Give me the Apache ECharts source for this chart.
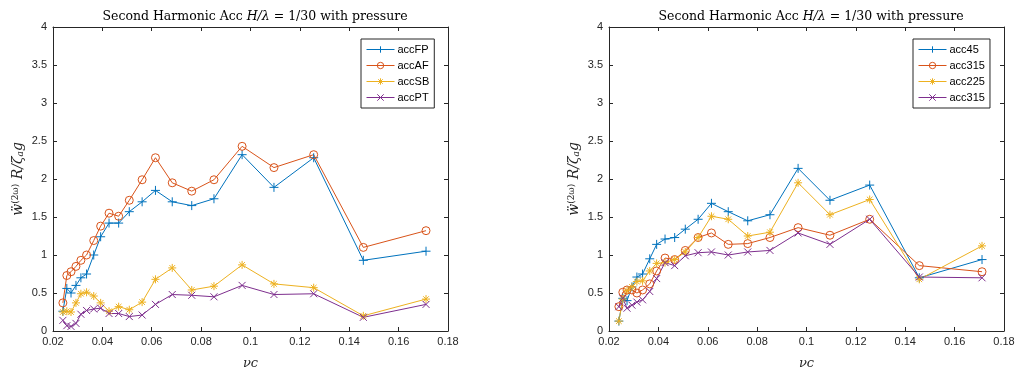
<!DOCTYPE html>
<html>
<head>
<meta charset="utf-8">
<script src="https://cdn.jsdelivr.net/npm/echarts@6.0.0/dist/echarts.min.js"></script>
<style>
  html, body { margin: 0; padding: 0; background: #fff; }
  #chart { width: 1019px; height: 369px; }
</style>
</head>
<body>
<div id="chart"></div>
<script>
// shared x values (nu*c)
const nu = [0.0240, 0.0256, 0.0273, 0.0293, 0.0313, 0.0336, 0.0365, 0.0393, 0.0427, 0.0466, 0.0509,
            0.0561, 0.0615, 0.0683, 0.0762, 0.0852, 0.0966, 0.1095, 0.1256, 0.1457, 0.1711];

// left panel
const accFP = [0.26, 0.56, 0.50, 0.60, 0.70, 0.75, 1.00, 1.24, 1.42, 1.42, 1.57, 1.70, 1.85, 1.70, 1.65, 1.74, 2.32, 1.89, 2.28, 0.93, 1.05];
const accAF = [0.37, 0.73, 0.78, 0.85, 0.93, 1.00, 1.19, 1.38, 1.55, 1.51, 1.72, 1.99, 2.28, 1.95, 1.84, 1.99, 2.43, 2.15, 2.32, 1.10, 1.32];
const accSB = [0.25, 0.26, 0.25, 0.37, 0.49, 0.51, 0.46, 0.37, 0.26, 0.32, 0.28, 0.38, 0.68, 0.83, 0.54, 0.59, 0.87, 0.62, 0.57, 0.20, 0.42];
const accPT = [0.14, 0.07, 0.06, 0.10, 0.22, 0.27, 0.29, 0.30, 0.23, 0.23, 0.19, 0.21, 0.35, 0.48, 0.47, 0.45, 0.60, 0.48, 0.49, 0.18, 0.35];

// right panel
const acc45   = [0.13, 0.43, 0.40, 0.58, 0.71, 0.75, 0.95, 1.14, 1.21, 1.23, 1.34, 1.47, 1.68, 1.57, 1.45, 1.53, 2.14, 1.72, 1.92, 0.70, 0.94];
const acc315  = [0.32, 0.51, 0.54, 0.54, 0.50, 0.54, 0.62, 0.79, 0.96, 0.94, 1.06, 1.23, 1.29, 1.14, 1.15, 1.23, 1.36, 1.26, 1.47, 0.86, 0.78];
const acc225  = [0.13, 0.42, 0.53, 0.58, 0.65, 0.66, 0.79, 0.89, 0.90, 0.94, 1.04, 1.23, 1.51, 1.47, 1.25, 1.30, 1.95, 1.53, 1.73, 0.68, 1.12];
const acc315b = [0.32, 0.43, 0.30, 0.34, 0.38, 0.41, 0.52, 0.69, 0.90, 0.86, 0.99, 1.03, 1.04, 1.00, 1.04, 1.06, 1.29, 1.14, 1.47, 0.71, 0.70];

// the right legend repeats "acc315"; '#n' keeps series names unique and is cut off in the legend
const leftNames = ['accFP', 'accAF', 'accSB', 'accPT'];
const rightNames = ['acc45', 'acc315#1', 'acc225', 'acc315#2'];

const COLORS = ['#0072BD', '#D95319', '#EDB120', '#7E2F8E'];
// matlab markers: + o * x
const MARKS = [
    'path://M0,-4L0,4M-4,0L4,0',
    'path://M4,0A4,4,0,1,1,-4,0A4,4,0,1,1,4,0Z',
    'path://M0,-4L0,4M-4,0L4,0M-2.8,-2.8L2.8,2.8M-2.8,2.8L2.8,-2.8',
    'path://M-4,-4L4,4M-4,4L4,-4',
];
const SIZES = [9, 8, 8, 7];
const AX = '#262626';
const SANS = 'Liberation Sans, Arial, sans-serif';
const SERIF = 'DejaVu Serif, serif';

const chart = echarts.init(document.getElementById('chart'));

const fmt = (v) => String(+v.toFixed(4));

function mkSeries(name, vals, k, gi) {
    return {
        name: name,
        type: 'line',
        xAxisIndex: gi * 2,
        yAxisIndex: gi * 2,
        data: nu.map((x, i) => [x, vals[i]]),
        symbol: MARKS[k],
        symbolSize: SIZES[k],
        showAllSymbol: true,
        lineStyle: { color: COLORS[k], width: 1 },
        itemStyle: { color: 'rgba(0,0,0,0)', borderColor: COLORS[k], borderWidth: 1 },
        emphasis: { disabled: true },
        animation: false,
    };
}

function xAxes(gi) {
    const base = {
        gridIndex: gi, type: 'value', min: 0.02, max: 0.18, interval: 0.02,
        splitLine: { show: false },
        axisLine: { show: true, onZero: false, lineStyle: { color: AX, width: 1 } },
        axisTick: { show: true, inside: true, length: 4, lineStyle: { color: AX } },
    };
    return [
        Object.assign({}, base, {
            position: 'bottom',
            axisLabel: { color: AX, fontFamily: SANS, fontSize: 11, margin: 5, formatter: fmt },
            name: '{i|νc}',
            nameLocation: 'middle',
            nameGap: 26,
            nameTextStyle: { rich: { i: { fontFamily: SERIF, fontStyle: 'italic', fontSize: 13, color: AX } } },
        }),
        Object.assign({}, base, { position: 'top', axisLabel: { show: false } }),
    ];
}

function yAxes(gi) {
    const base = {
        gridIndex: gi, type: 'value', min: 0, max: 4, interval: 0.5,
        splitLine: { show: false },
        axisLine: { show: true, onZero: false, lineStyle: { color: AX, width: 1 } },
        axisTick: { show: true, inside: true, length: 4, lineStyle: { color: AX } },
    };
    return [
        Object.assign({}, base, {
            position: 'left',
            axisLabel: { color: AX, fontFamily: SANS, fontSize: 11, margin: 6, formatter: fmt },
            name: '{w|ẅ}{sup|(2ω)}{w| R/ζ}{sub|a}{w|g}',
            nameLocation: 'middle',
            nameRotate: 90,
            nameGap: 28,
            nameTextStyle: {
                rich: {
                    w: { fontFamily: SERIF, fontStyle: 'italic', fontSize: 14, color: AX, verticalAlign: 'middle' },
                    sup: { fontFamily: SERIF, fontSize: 9, color: AX, verticalAlign: 'top' },
                    sub: { fontFamily: SERIF, fontStyle: 'italic', fontSize: 9, color: AX, verticalAlign: 'bottom' },
                },
            },
        }),
        Object.assign({}, base, { position: 'right', axisLabel: { show: false } }),
    ];
}

function title(cx) {
    return {
        text: 'Second Harmonic Acc {i|H/λ} = 1/30 with pressure',
        left: cx,
        top: 5,
        textAlign: 'center',
        textStyle: {
            fontFamily: SERIF, fontSize: 12.5, fontWeight: 'normal', color: '#000',
            rich: { i: { fontFamily: SERIF, fontStyle: 'italic', fontSize: 12.5, color: '#000' } },
        },
    };
}

function legend(names, left) {
    return {
        data: names,
        left: left,
        top: 39,
        orient: 'vertical',
        itemWidth: 28,
        itemHeight: 8,
        itemGap: 5,
        padding: [5, 5, 5, 5],
        backgroundColor: '#fff',
        borderColor: AX,
        borderWidth: 1,
        lineStyle: { width: 1 },
        itemStyle: { color: 'rgba(0,0,0,0)', borderWidth: 1 },
        formatter: (name) => name.split('#')[0],
        textStyle: { fontFamily: SANS, fontSize: 11, color: '#000', padding: [0, 0, 0, -2] },
        selectedMode: false,
    };
}

const leftSeries = [accFP, accAF, accSB, accPT].map((v, k) => mkSeries(leftNames[k], v, k, 0));
const rightSeries = [acc45, acc315, acc225, acc315b].map((v, k) => mkSeries(rightNames[k], v, k, 1));

chart.setOption({
    backgroundColor: '#fff',
    animation: false,
    title: [title(250), title(806)],
    grid: [
        { left: 53, top: 27, width: 395, height: 304, containLabel: false, outerBoundsMode: 'none' },
        { left: 609, top: 27, width: 395, height: 304, containLabel: false, outerBoundsMode: 'none' },
    ],
    xAxis: [...xAxes(0), ...xAxes(1)],
    yAxis: [...yAxes(0), ...yAxes(1)],
    legend: [legend(leftNames, 361), legend(rightNames, 913)],
    series: [...leftSeries, ...rightSeries],
});
</script>
</body>
</html>
